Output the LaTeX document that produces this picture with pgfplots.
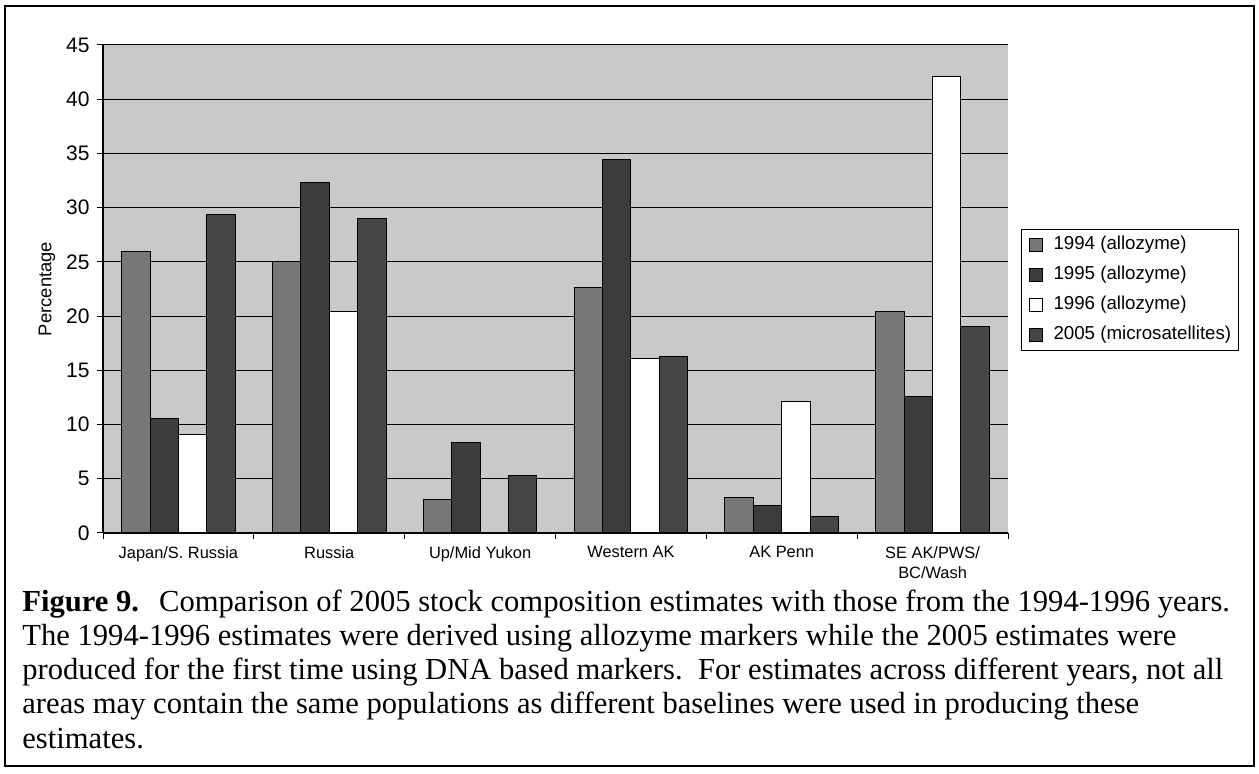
\documentclass[border=0pt]{standalone}
\usepackage{pgfplots}
\pgfplotsset{compat=1.18}
\usepackage{pgfplotstable}
\usepackage{fontspec}
\setmainfont{Liberation Sans}
\newfontfamily\serif{Liberation Serif}
\definecolor{bg}{HTML}{C9C9C9}
\definecolor{cA}{HTML}{777777}
\definecolor{cB}{HTML}{3C3C3C}
\definecolor{cD}{HTML}{464646}
\pgfplotstableread{
x  a     b     c     d
0  26.0  10.6  9.1   29.4
1  25.0  32.3  20.4  29.0
2  3.1   8.3   nan   5.3
3  22.6  34.4  16.1  16.3
4  3.3   2.5   12.1  1.5
5  20.4  12.6  42.1  19.0
}\datatable
\pgfplotsset{sq/.style={legend image code/.code={\draw[##1,line width=0.5pt] (0pt,-3.25pt) rectangle (6.5pt,3.25pt);}}}
\begin{document}
\begin{tikzpicture}
\path (0pt,0pt) rectangle (629.5pt,-387pt);
\draw[line width=1pt] (2.5pt,-3pt) rectangle (627pt,-383pt);
\begin{axis}[
  at={(51.5pt,-266.5pt)}, anchor=south west,
  scale only axis, width=452.5pt, height=244pt,
  ybar=0pt, bar width=14.2pt,
  xmin=-0.5, xmax=5.5, ymin=0, ymax=45,
  unbounded coords=jump,
  axis background/.style={fill=bg},
  axis x line*=bottom, axis y line*=left,
  axis line style={line width=0.6pt},
  ytick={0,5,...,45},
  xtick={0,...,5},
  xticklabels={Japan/S. Russia, Russia, Up/Mid Yukon, Western AK, AK Penn, {SE AK/PWS/\\BC/Wash}},
  minor xtick={-0.5,0.5,...,5.5},
  major x tick style={draw=none},
  tick align=outside,
  major tick length=3pt, minor tick length=3pt,
  tick style={black, line width=0.5pt},
  ymajorgrids, grid style={black, line width=0.5pt},
  /pgf/number format/assume math mode=true,
  yticklabel style={font=\fontsize{10.5}{12}\selectfont, inner sep=0pt, xshift=-3.5pt},
  xticklabel style={font=\fontsize{8.2}{10}\selectfont, align=center, inner sep=0pt, yshift=-3.5pt},
  ylabel={Percentage},
  every axis y label/.style={at={(axis description cs:-0.0619,0.5)}, rotate=90, anchor=center, font=\fontsize{9.2}{11}\selectfont},
  legend style={at={(1.0144,0.623)}, anchor=north west, draw=black, line width=0.5pt, fill=white,
    font=\fontsize{9.35}{11}\selectfont, cells={anchor=west}, row sep=5.6pt, column sep=5.5pt,
    inner xsep=3.5pt, inner ysep=3pt,
    nodes={inner sep=0pt, text height=7.2pt, text depth=2.2pt}},
]
\addplot[fill=cA, draw=black, line width=0.5pt, sq] table[x=x,y=a]{\datatable};
\addplot[fill=cB, draw=black, line width=0.5pt, sq] table[x=x,y=b]{\datatable};
\addplot[fill=white, draw=black, line width=0.5pt, sq] table[x=x,y=c]{\datatable};
\addplot[fill=cD, draw=black, line width=0.5pt, sq] table[x=x,y=d]{\datatable};
\legend{1994 (allozyme), 1995 (allozyme), 1996 (allozyme), 2005 (microsatellites)}
\end{axis}
\begin{scope}[every node/.style={anchor=base west, inner sep=0pt, font=\serif\fontsize{15.3}{17}\selectfont}]
\node at (11pt,-306pt) {\textbf{Figure 9.}\hspace{10pt}Comparison of 2005 stock composition estimates with those from the 1994-1996 years.};
\node at (11pt,-323pt) {The 1994-1996 estimates were derived using allozyme markers while the 2005 estimates were};
\node at (11pt,-340pt) {produced for the first time using DNA based markers.\ \ For estimates across different years, not all};
\node at (11pt,-357pt) {areas may contain the same populations as different baselines were used in producing these};
\node at (11pt,-374pt) {estimates.};
\end{scope}
\end{tikzpicture}
\end{document}
